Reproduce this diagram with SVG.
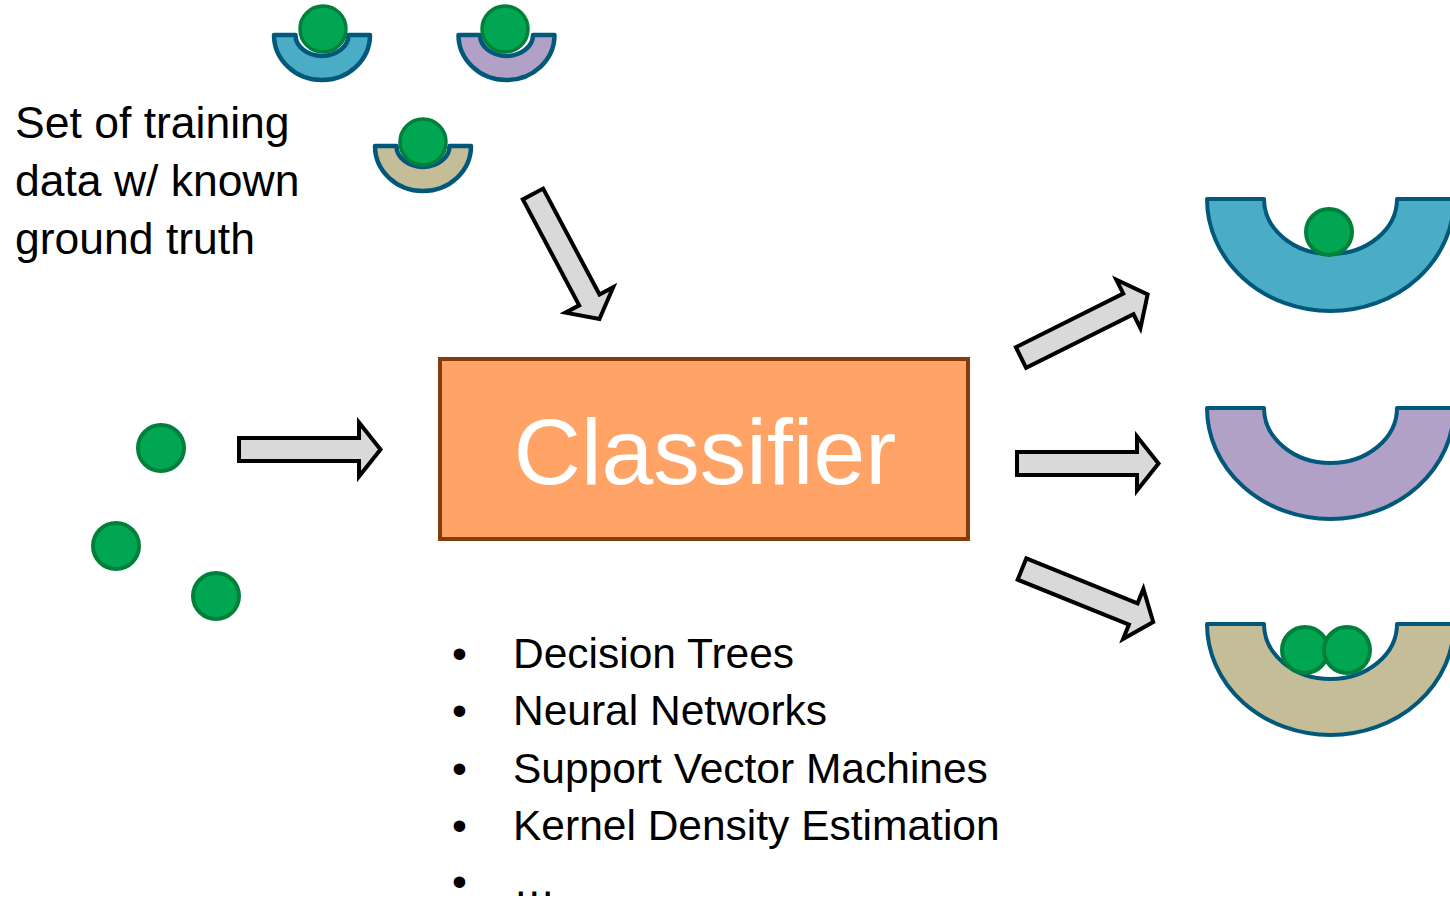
<svg xmlns="http://www.w3.org/2000/svg" width="1450" height="902" viewBox="0 0 1450 902">
<style>
.txt{font-family:"Liberation Sans",Arial,sans-serif;fill:#000}
.ball{fill:#00A651;stroke:#00803A;stroke-width:4}
.sball{fill:#00A651;stroke:#00803A;stroke-width:3.5}
.bowl{stroke:#02587A;stroke-width:4;stroke-linejoin:round}
.sbowl{stroke:#02587A;stroke-width:4.5;stroke-linejoin:round}
.arrow{fill:#D9D9D9;stroke:#000;stroke-width:4;stroke-linejoin:miter}
</style>
<defs>
<path id="blockArrow" d="M0,-11.5 H120 V-27 L141.5,0 L120,27 V11.5 H0 Z"/>
</defs>
<rect width="1450" height="902" fill="#fff"/>

<g id="training-label">
<text class="txt" x="15" y="138" font-size="44.5">Set of training</text>
<text class="txt" x="15" y="196" font-size="44.5">data w/ known</text>
<text class="txt" x="15" y="254" font-size="44.5">ground truth</text>
</g>

<g id="train-sample-1">
<path class="sbowl" fill="#4BACC6" d="M274,35 A48,45 0 0 0 370,35 L348.5,35 A26.5,21 0 0 1 295.5,35 Z"/>
<circle class="sball" cx="323" cy="29" r="23"/>
</g>
<g id="train-sample-2">
<path class="sbowl" fill="#B2A1C7" d="M458.5,35 A48,45 0 0 0 554.5,35 L533,35 A26.5,21 0 0 1 480,35 Z"/>
<circle class="sball" cx="505" cy="29" r="23"/>
</g>
<g id="train-sample-3">
<path class="sbowl" fill="#C4BD97" d="M375,146 A48,45 0 0 0 471,146 L449.5,146 A26.5,21 0 0 1 396.5,146 Z"/>
<circle class="sball" cx="423" cy="142" r="23"/>
</g>

<g id="input-samples">
<circle class="ball" cx="161" cy="448" r="23"/>
<circle class="ball" cx="116" cy="546" r="23"/>
<circle class="ball" cx="216" cy="596" r="23"/>
</g>

<g id="classifier">
<rect x="440" y="359" width="528" height="180" fill="#FFA466" stroke="#843C0C" stroke-width="4"/>
<text class="txt" x="705" y="484" font-size="93" text-anchor="middle" style="fill:#fff">Classifier</text>
</g>

<g id="methods-list">
<text class="txt" x="452" y="668" font-size="42.5">•</text>
<text class="txt" x="513" y="668" font-size="42.5">Decision Trees</text>
<text class="txt" x="452" y="725" font-size="42.5">•</text>
<text class="txt" x="513" y="725" font-size="42.5">Neural Networks</text>
<text class="txt" x="452" y="783" font-size="42.5">•</text>
<text class="txt" x="513" y="783" font-size="42.5">Support Vector Machines</text>
<text class="txt" x="452" y="840" font-size="42.5">•</text>
<text class="txt" x="513" y="840" font-size="42.5">Kernel Density Estimation</text>
<text class="txt" x="452" y="896" font-size="42.5">•</text>
<text class="txt" x="513" y="896" font-size="42.5">…</text>
</g>

<g id="output-class-1">
<path class="bowl" fill="#4BACC6" d="M1207,199 A123.5,112 0 0 0 1454,199 L1397,199 A66.5,55 0 0 1 1264,199 Z"/>
<circle class="ball" cx="1329" cy="232" r="23"/>
</g>
<g id="output-class-2">
<path class="bowl" fill="#B2A1C7" d="M1207,408 A123.5,111 0 0 0 1454,408 L1397,408 A66.5,55 0 0 1 1264,408 Z"/>
</g>
<g id="output-class-3">
<path class="bowl" fill="#C4BD97" d="M1207,624 A123.5,111 0 0 0 1454,624 L1397,624 A66.5,55 0 0 1 1264,624 Z"/>
<circle class="ball" cx="1305" cy="650" r="23"/>
<circle class="ball" cx="1347" cy="650" r="23"/>
</g>

<g id="connectors">
<use href="#blockArrow" class="arrow" transform="translate(533,194) rotate(62)"/>
<use href="#blockArrow" class="arrow" transform="translate(239,449.5)"/>
<use href="#blockArrow" class="arrow" transform="translate(1021,357.5) rotate(-26.5)"/>
<use href="#blockArrow" class="arrow" transform="translate(1017,463.5)"/>
<use href="#blockArrow" class="arrow" transform="translate(1022,569) rotate(22)"/>
</g>
</svg>
